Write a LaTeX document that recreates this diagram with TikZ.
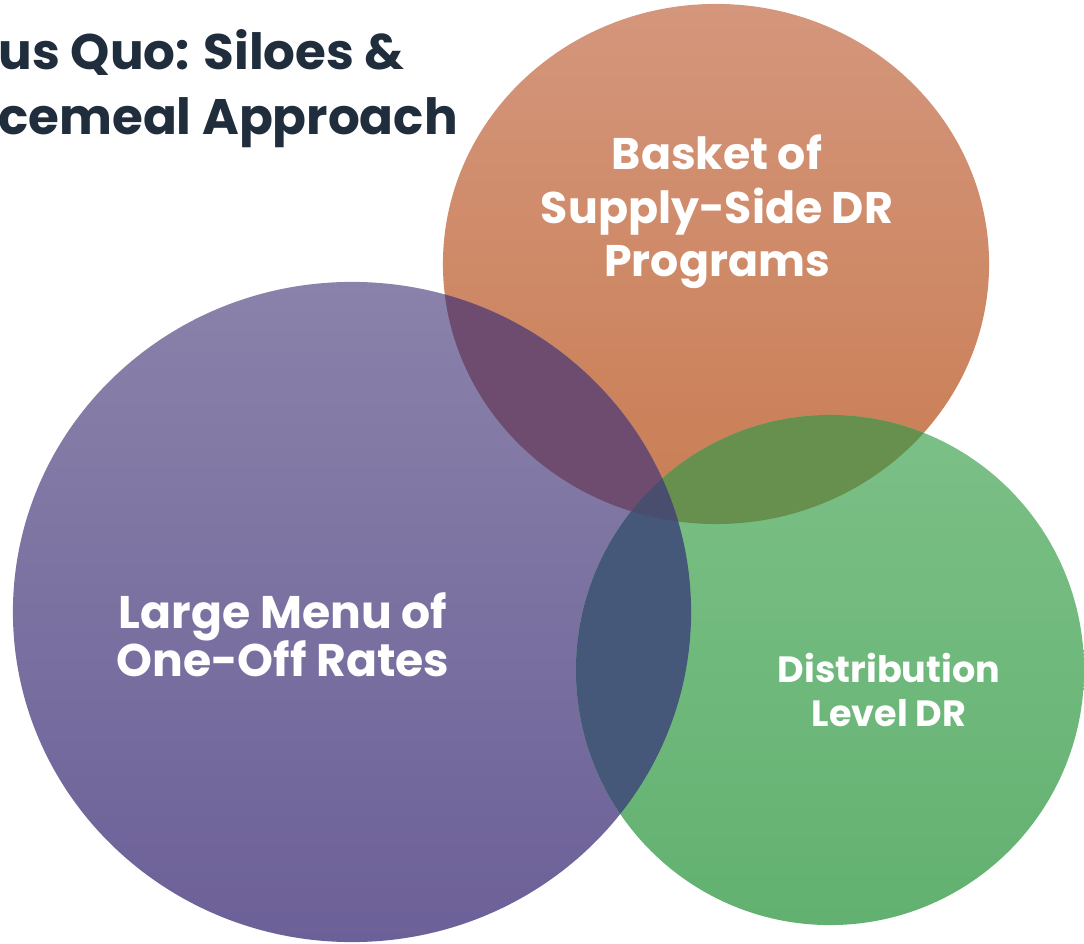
\documentclass[tikz,border=0pt]{standalone}
\usepackage{fontspec}
\setmainfont{Poppins}
\usepackage{tikz}
\usetikzlibrary{backgrounds,calc}
\pgfdeclarelayer{background}
\pgfsetlayers{background,main}

\definecolor{TitleBlue}{HTML}{1F2D3D}
\definecolor{OrTop}{HTML}{D4967C}
\definecolor{OrBot}{HTML}{C97D53}
\definecolor{PuTop}{HTML}{8A82AA}
\definecolor{PuBot}{HTML}{6C6098}
\definecolor{GrTop}{HTML}{7CC087}
\definecolor{GrBot}{HTML}{62B170}
\definecolor{OrPu}{HTML}{6E4C70}
\definecolor{OrGr}{HTML}{67904F}
\definecolor{PuGr}{HTML}{45587A}
\definecolor{OrPuGr}{HTML}{4A4E6E}

\begin{document}
\begin{tikzpicture}[x=0.025cm,y=-0.025cm]
    \bfseries

    \tikzset{TT/.style={text=TitleBlue,inner sep=0pt,font=\fontsize{35.5}{40}\selectfont\bfseries}}
    \tikzset{CL/.style={text=white,inner sep=0pt,align=center}}
    \tikzset{OR/.style={top color=OrTop,bottom color=OrBot}}
    \tikzset{PU/.style={top color=PuTop,bottom color=PuBot}}
    \tikzset{GR/.style={top color=GrTop,bottom color=GrBot}}

    \useasboundingbox (0,0) rectangle (1084,944);

    \coordinate (o) at (716,264);
    \coordinate (p) at (352,612);
    \coordinate (g) at (830,670);

    \node (title1) [TT,anchor=base east] at (405,70) {us Quo: Siloes \&};
    \node (title2) [TT,anchor=base east] at (458,135) {cemeal Approach};

    \begin{pgfonlayer}{background}
        \shade[OR] (o) ellipse [x radius=6.825cm, y radius=6.5cm];
        \shade[PU] (p) ellipse [x radius=8.475cm, y radius=8.25cm];
        \shade[GR] (g) ellipse [x radius=6.35cm, y radius=6.375cm];
        % overlaps
        \begin{scope}
            \clip (o) ellipse [x radius=6.825cm, y radius=6.5cm];
            \fill[OrPu] (p) ellipse [x radius=8.475cm, y radius=8.25cm];
            \fill[OrGr] (g) ellipse [x radius=6.35cm, y radius=6.375cm];
        \end{scope}
        \begin{scope}
            \clip (p) ellipse [x radius=8.475cm, y radius=8.25cm];
            \fill[PuGr] (g) ellipse [x radius=6.35cm, y radius=6.375cm];
            \clip (g) ellipse [x radius=6.35cm, y radius=6.375cm];
            \fill[OrPuGr] (o) ellipse [x radius=6.825cm, y radius=6.5cm];
        \end{scope}
    \end{pgfonlayer}

    \node (supply) [CL,font=\fontsize{31.5}{38}\selectfont\bfseries] at (717,212) {Basket of\\Supply-Side DR\\Programs};
    \node (rates) [CL,font=\fontsize{32.5}{34.5}\selectfont\bfseries] at (283,635) {Large Menu of\\One-Off Rates};
    \node (distr) [CL,font=\fontsize{26}{31.3}\selectfont\bfseries] at (889,690) {Distribution\\Level DR};
\end{tikzpicture}
\end{document}
